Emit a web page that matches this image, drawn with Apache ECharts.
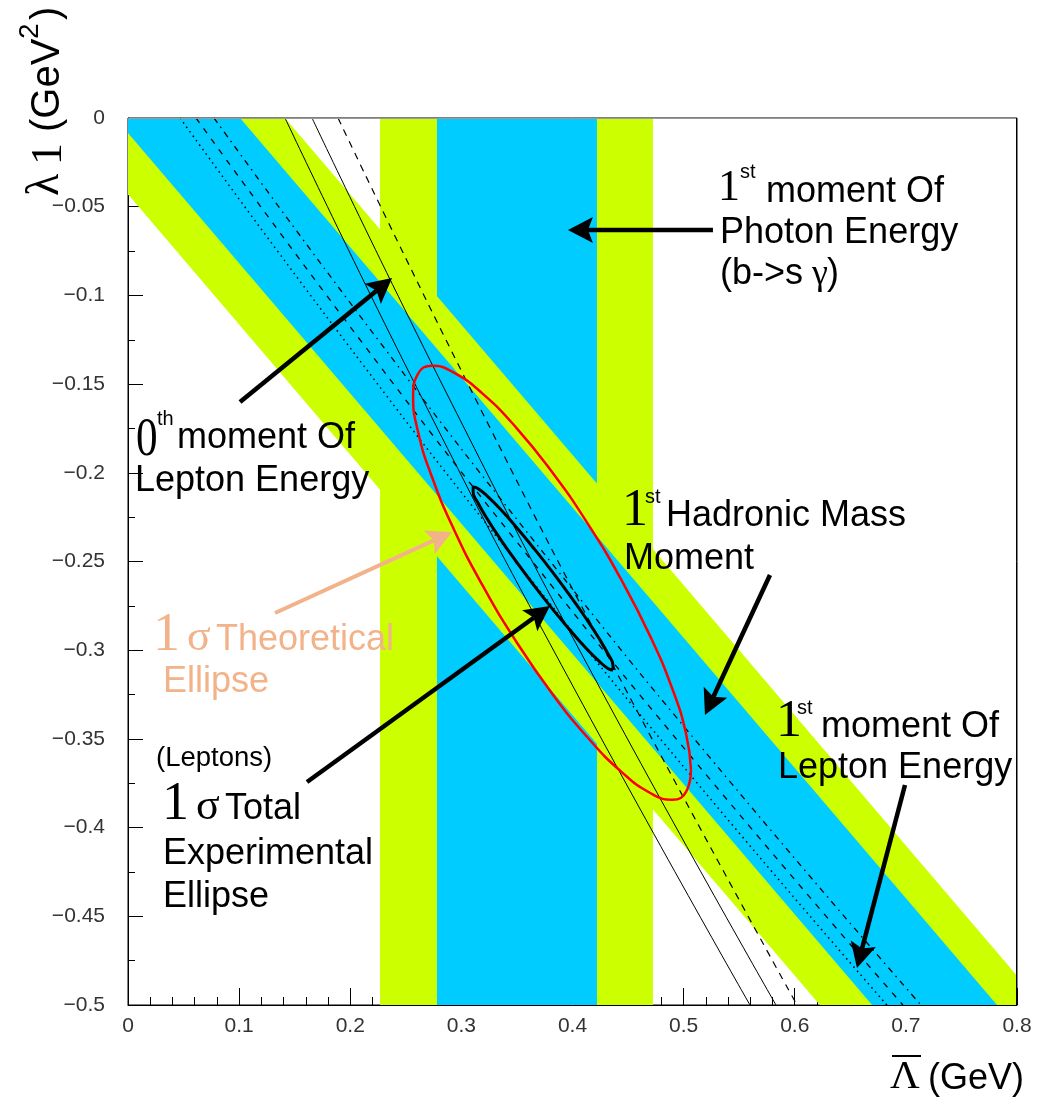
<!DOCTYPE html>
<html>
<head>
<meta charset="utf-8">
<script src="https://cdn.jsdelivr.net/npm/echarts@6/dist/echarts.min.js"></script>
<style>
html,body{margin:0;padding:0;background:#fff;}
#chart{width:1049px;height:1100px;}
</style>
</head>
<body>
<div id="chart"></div>
<script>
// ---------- axis ticks ----------
const xTickValues = [0, 0.1, 0.2, 0.3, 0.4, 0.5, 0.6, 0.7, 0.8];
const xTickLabels = ['0', '0.1', '0.2', '0.3', '0.4', '0.5', '0.6', '0.7', '0.8'];
const yTickValues = [0, -0.05, -0.1, -0.15, -0.2, -0.25, -0.3, -0.35, -0.4, -0.45, -0.5];
const yTickLabels = ['0', '\u22120.05', '\u22120.1', '\u22120.15', '\u22120.2', '\u22120.25', '\u22120.3', '\u22120.35', '\u22120.4', '\u22120.45', '\u22120.5'];

// ---------- 1st moment of photon energy (vertical band) ----------
const photonGreenEdges = [0.2268, 0.4724];   // Lambda-bar range, outer band
const photonBlueEdges  = [0.278, 0.422];     // Lambda-bar range, inner band
const photonLambda1Range = [0, -0.5];        // lambda1 extent

// ---------- 1st hadronic mass moment (diagonal band), edges at Lambda-bar = 0 and 0.8 ----------
const hadronX          = [0, 0.8];
const hadronGreenUpper = [0.1037, -0.4835];
const hadronBlueUpper  = [0.074, -0.5132];
const hadronBlueLower  = [-0.0085, -0.5957];
const hadronGreenLower = [-0.043, -0.6302];

// ---------- 0th moment of lepton energy (steep lines) ----------
const lep0SolidA = [[0.1413, 0], [0.2655, -0.159], [0.4022, -0.3224], [0.5597, -0.5]];
const lep0SolidB = [[0.1656, 0], [0.2898, -0.159], [0.4256, -0.3224], [0.5831, -0.5]];
const lep0Dashed = [[0.189, 0], [0.3132, -0.159], [0.4481, -0.3224], [0.602, -0.5]];

// ---------- 1st moment of lepton energy (curves inside the band) ----------
const lep1Dotted  = [[0.0468, 0], [0.1945, -0.1251], [0.3499, -0.2503], [0.5122, -0.3749], [0.6829, -0.5]];
const lep1Dashed  = [[0.0612, 0], [0.2089, -0.1251], [0.3643, -0.2503], [0.5266, -0.3749], [0.6973, -0.5]];
const lep1DashDot = [[0.0774, 0], [0.2251, -0.1251], [0.3805, -0.2503], [0.5428, -0.3749], [0.7135, -0.5]];

// ---------- 1 sigma theoretical ellipse (red) ----------
const theoryEllipse = [
  [0.5066, -0.3672], [0.5023, -0.3474], [0.4899, -0.3219], [0.4700, -0.2922], [0.4441, -0.2605], [0.4140, -0.2289],
  [0.3816, -0.1996], [0.3493, -0.1745], [0.3191, -0.1554], [0.2932, -0.1435], [0.2734, -0.1397], [0.2609, -0.1443],
  [0.2566, -0.1568], [0.2609, -0.1766], [0.2734, -0.2021], [0.2932, -0.2318], [0.3191, -0.2635], [0.3493, -0.2951],
  [0.3816, -0.3244], [0.4140, -0.3495], [0.4441, -0.3686], [0.4700, -0.3805], [0.4899, -0.3843], [0.5023, -0.3797],
  [0.5066, -0.3672]
];

// ---------- 1 sigma total experimental ellipse (black) ----------
const expEllipse = [
  [0.4365, -0.3112], [0.4364, -0.3084], [0.4321, -0.3023], [0.4238, -0.2933], [0.4121, -0.2820], [0.3977, -0.2692],
  [0.3817, -0.2557], [0.3651, -0.2425], [0.3491, -0.2304], [0.3348, -0.2203], [0.3231, -0.2130], [0.3148, -0.2088],
  [0.3106, -0.2080], [0.3106, -0.2108], [0.3149, -0.2169], [0.3232, -0.2259], [0.3349, -0.2372], [0.3493, -0.2500],
  [0.3653, -0.2635], [0.3819, -0.2767], [0.3979, -0.2888], [0.4122, -0.2989], [0.4239, -0.3062], [0.4322, -0.3104],
  [0.4365, -0.3112]
];

// ---------- annotation arrows: [tailX, tailY, tipX, tipY] ----------
const arrowPhoton = [0.5264, -0.0631, 0.3959, -0.0631];
const arrowLep0   = [0.1008, -0.1601, 0.2376, -0.0902];
const arrowHadron = [0.5777, -0.2576, 0.5192, -0.3365];
const arrowLep1   = [0.6992, -0.3760, 0.6560, -0.4791];
const arrowTotal  = [0.1611, -0.3743, 0.3797, -0.2751];
const arrowTheory = [0.1323, -0.2790, 0.2916, -0.2334];

// ---------- styles ----------
const GREEN = '#CCFF00';
const BLUE = '#00CCFF';
const ORANGE = '#F2B38A';
const SANS = "'Liberation Sans', Arial, Helvetica, sans-serif";
const SERIF = "'Liberation Serif', 'Times New Roman', serif";
const FS = 36;

function lookupLabel(values, labels, v) {
  for (let i = 0; i < values.length; i++) {
    if (Math.abs(values[i] - v) < 1e-6) return labels[i];
  }
  return '';
}

function bandRenderer(color) {
  return function (params, api) {
    const pts = [
      api.coord([api.value(0), api.value(2)]),
      api.coord([api.value(1), api.value(3)]),
      api.coord([api.value(1), api.value(5)]),
      api.coord([api.value(0), api.value(4)])
    ];
    return { type: 'polygon', shape: { points: pts }, style: { fill: color, stroke: null } };
  };
}

function bandSeries(color, item) {
  return {
    type: 'custom', clip: true, silent: true,
    encode: { x: [0, 1], y: [2, 3, 4, 5] },
    renderItem: bandRenderer(color),
    data: [item]
  };
}

function arrowRenderer(color, width) {
  return function (params, api) {
    const p1 = api.coord([api.value(0), api.value(1)]);
    const p2 = api.coord([api.value(2), api.value(3)]);
    const dx = p2[0] - p1[0], dy = p2[1] - p1[1];
    const L = Math.sqrt(dx * dx + dy * dy);
    const ux = dx / L, uy = dy / L, nx = -uy, ny = ux;
    const hl = 25, hw = 13, notch = 5;
    const bx = p2[0] - ux * hl, by = p2[1] - uy * hl;
    const np = [p2[0] - ux * (hl - notch), p2[1] - uy * (hl - notch)];
    return {
      type: 'group',
      children: [
        { type: 'line', shape: { x1: p1[0], y1: p1[1], x2: np[0], y2: np[1] }, style: { stroke: color, lineWidth: width } },
        { type: 'polygon', shape: { points: [p2, [bx + nx * hw, by + ny * hw], np, [bx - nx * hw, by - ny * hw]] }, style: { fill: color } }
      ]
    };
  };
}

function arrowSeries(color, width, items) {
  return {
    type: 'custom', clip: false, silent: true, z: 10,
    encode: { x: [0, 2], y: [1, 3] },
    renderItem: arrowRenderer(color, width),
    data: items
  };
}

function lineSeries(data, color, width, type, smooth, z) {
  return {
    type: 'line', data: data, showSymbol: false, symbol: 'none', smooth: smooth,
    clip: true, silent: true, z: z || 3,
    lineStyle: { color: color, width: width, type: type }
  };
}

// frame on top of the fills (top: grey, right: black), drawn from the grid rectangle
const frameSeries = {
  type: 'custom', clip: false, silent: true, z: 8,
  encode: { x: 0, y: 1 },
  renderItem: function (params) {
    const cs = params.coordSys;
    return {
      type: 'group',
      children: [
        { type: 'line', shape: { x1: cs.x, y1: cs.y + 0.5, x2: cs.x + cs.width, y2: cs.y + 0.5 }, style: { stroke: '#9a9a9a', lineWidth: 1 } },
        { type: 'line', shape: { x1: cs.x + cs.width - 0.5, y1: cs.y, x2: cs.x + cs.width - 0.5, y2: cs.y + cs.height }, style: { stroke: '#000', lineWidth: 1 } }
      ]
    };
  },
  data: [[xTickValues[0], yTickValues[0]]]
};

// text helper: x = left, base = baseline
function T(x, base, text, size, family, color, extra) {
  const el = {
    type: 'text', x: x, y: base - 0.3 * size, z: 100, silent: true,
    style: {
      text: text, font: size + 'px ' + family, fill: color,
      align: 'left', verticalAlign: 'middle', textAlign: 'left', textVerticalAlign: 'middle'
    }
  };
  return Object.assign(el, extra || {});
}

const graphics = [
  // y-axis title (rotated)
  { type: 'group', x: 60, y: 196, rotation: Math.PI / 2, z: 100, children: [
      T(0, 0, '\u03bb', 46, SERIF, '#000'),
      T(31, 3, '1', 44, SERIF, '#000'),
      T(64, 0, '(GeV', 40, SANS, '#000'),
      T(157, -21, '2', 28, SANS, '#000'),
      T(176, 0, ')', 40, SANS, '#000')
  ] },
  // x-axis title
  T(890, 1090, '\u039b', 41, SERIF, '#000'),
  { type: 'line', z: 100, shape: { x1: 892, y1: 1056, x2: 921, y2: 1056 }, style: { stroke: '#000', lineWidth: 2 } },
  T(928, 1090, '(GeV)', 36, SANS, '#000'),

  // 1st moment Of Photon Energy (b->s gamma)
  T(718, 202, '1', 44, SERIF, '#000'),
  T(740, 178, 'st', 20, SANS, '#000'),
  T(766, 203, 'moment Of', FS, SANS, '#000'),
  T(720, 244, 'Photon Energy', FS, SANS, '#000'),
  T(720, 285, '(b->s ', FS, SANS, '#000'),
  T(812, 285, '\u03b3', 36, SERIF, '#000'),
  T(827, 285, ')', FS, SANS, '#000'),

  // 0th moment Of Lepton Energy
  T(136, 457, '0', 54, SERIF, '#000', { scaleX: 0.8 }),
  T(157, 425, 'th', 20, SANS, '#000'),
  T(177, 449, 'moment Of', FS, SANS, '#000'),
  T(135, 492, 'Lepton Energy', FS, SANS, '#000'),

  // 1st Hadronic Mass Moment
  T(622, 527, '1', 52, SERIF, '#000'),
  T(645, 503, 'st', 20, SANS, '#000'),
  T(666, 527, 'Hadronic Mass', FS, SANS, '#000'),
  T(624, 570, 'Moment', FS, SANS, '#000'),

  // 1st moment Of Lepton Energy
  T(776, 738, '1', 52, SERIF, '#000'),
  T(797, 714, 'st', 20, SANS, '#000'),
  T(821, 738, 'moment Of', FS, SANS, '#000'),
  T(778, 779, 'Lepton Energy', FS, SANS, '#000'),

  // 1 sigma Theoretical Ellipse
  T(153, 652, '1', 54, SERIF, ORANGE),
  T(187, 652, '\u03c3', 44, SERIF, ORANGE),
  T(216, 651, 'Theoretical', FS, SANS, ORANGE),
  T(163, 693, 'Ellipse', FS, SANS, ORANGE),

  // (Leptons) 1 sigma Total Experimental Ellipse
  T(156, 767, '(Leptons)', 27.5, SANS, '#000'),
  T(162, 821, '1', 54, SERIF, '#000'),
  T(196, 821, '\u03c3', 44, SERIF, '#000'),
  T(225, 820, 'Total', FS, SANS, '#000'),
  T(163, 865, 'Experimental', FS, SANS, '#000'),
  T(163, 908, 'Ellipse', FS, SANS, '#000')
];

const option = {
  animation: false,
  backgroundColor: '#ffffff',
  grid: { left: 128, right: 32, top: 118, bottom: 95, show: true, borderColor: '#000', borderWidth: 1, backgroundColor: 'transparent' },
  xAxis: {
    type: 'value', min: 0, max: 0.8, interval: 0.1,
    axisLine: { onZero: false, lineStyle: { color: '#000', width: 1 } },
    axisTick: { inside: true, length: 17, lineStyle: { color: '#000', width: 1 } },
    minorTick: { show: true, splitNumber: 5, length: 8, lineStyle: { color: '#000', width: 1 } },
    splitLine: { show: false }, minorSplitLine: { show: false },
    axisLabel: { margin: 11, fontFamily: SANS, fontSize: 21, color: '#333',
      formatter: function (v) { return lookupLabel(xTickValues, xTickLabels, v); } }
  },
  yAxis: {
    type: 'value', min: -0.5, max: 0, interval: 0.05,
    axisLine: { onZero: false, lineStyle: { color: '#000', width: 1 } },
    axisTick: { inside: true, length: 15, lineStyle: { color: '#000', width: 1 } },
    minorTick: { show: true, splitNumber: 2, length: 7, lineStyle: { color: '#000', width: 1 } },
    splitLine: { show: false }, minorSplitLine: { show: false },
    axisLabel: { margin: 23, fontFamily: SANS, fontSize: 21, color: '#333',
      formatter: function (v) { return lookupLabel(yTickValues, yTickLabels, v); } }
  },
  series: [
    bandSeries(GREEN, [photonGreenEdges[0], photonGreenEdges[1], photonLambda1Range[0], photonLambda1Range[0], photonLambda1Range[1], photonLambda1Range[1]]),
    bandSeries(BLUE, [photonBlueEdges[0], photonBlueEdges[1], photonLambda1Range[0], photonLambda1Range[0], photonLambda1Range[1], photonLambda1Range[1]]),
    bandSeries(GREEN, [hadronX[0], hadronX[1], hadronGreenUpper[0], hadronGreenUpper[1], hadronGreenLower[0], hadronGreenLower[1]]),
    bandSeries(BLUE, [hadronX[0], hadronX[1], hadronBlueUpper[0], hadronBlueUpper[1], hadronBlueLower[0], hadronBlueLower[1]]),

    lineSeries(lep1Dotted, '#000', 1.5, [1.5, 4], true),
    lineSeries(lep1Dashed, '#000', 1.3, [6, 7], true),
    lineSeries(lep1DashDot, '#000', 1.3, [6, 5, 1.5, 5], true),

    lineSeries(lep0SolidA, '#000', 1, 'solid', true),
    lineSeries(lep0SolidB, '#000', 1, 'solid', true),
    lineSeries(lep0Dashed, '#000', 1.2, [7, 6], true),

    lineSeries(theoryEllipse, '#FF0000', 2.5, 'solid', 0.5, 5),
    lineSeries(expEllipse, '#000', 3, 'solid', 0.5, 6),

    frameSeries,

    arrowSeries('#000', 4.5, [arrowPhoton, arrowLep0, arrowHadron, arrowLep1, arrowTotal]),
    arrowSeries(ORANGE, 4, [arrowTheory])
  ],
  graphic: { elements: graphics }
};

const chart = echarts.init(document.getElementById('chart'), null, { renderer: 'canvas' });
chart.setOption(option);
</script>
</body>
</html>
